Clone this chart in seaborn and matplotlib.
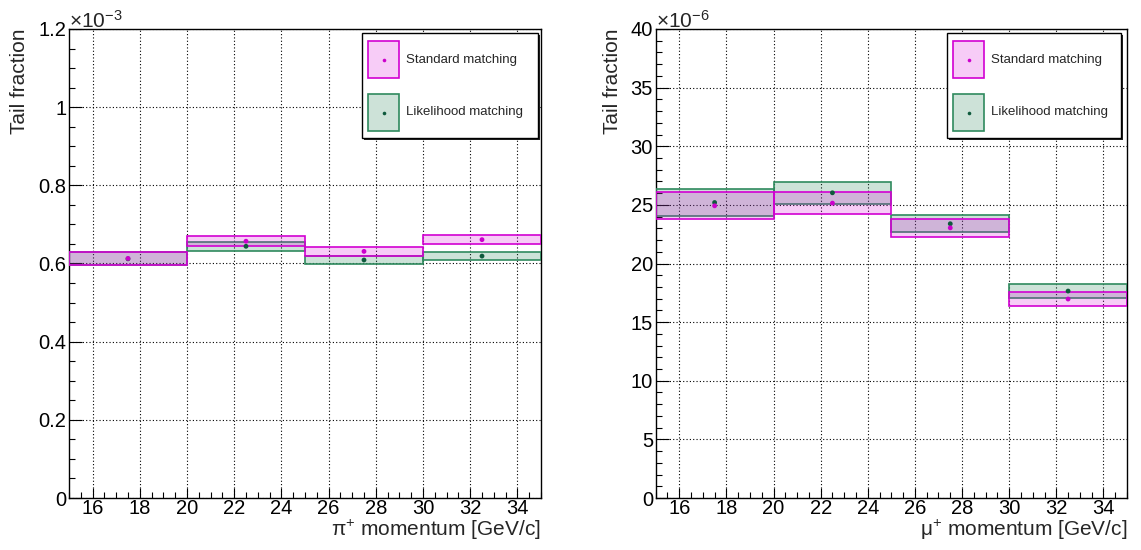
import numpy as np
import pandas as pd
import matplotlib
matplotlib.use("Agg")
import matplotlib.pyplot as plt
import seaborn as sns
from matplotlib.patches import Rectangle
from matplotlib.ticker import MultipleLocator, FuncFormatter

# ---------------- data ----------------
bin_edges = [15, 20, 25, 30, 35]

# pi+ tail fraction (units of 1e-3)
pi_std = [0.613, 0.657, 0.631, 0.661]
pi_std_err = [0.017, 0.013, 0.011, 0.0115]
pi_lik = [0.612, 0.644, 0.609, 0.619]
pi_lik_err = [0.017, 0.012, 0.010, 0.011]

# mu+ tail fraction (units of 1e-6)
mu_std = [24.92, 25.15, 23.04, 16.97]
mu_std_err = [1.15, 0.91, 0.74, 0.60]
mu_lik = [25.20, 26.03, 23.39, 17.65]
mu_lik_err = [1.15, 0.94, 0.72, 0.60]

series_labels = ["Standard matching", "Likelihood matching"]
x_titles = [r"$\mathrm{\pi}^{+}$ momentum [GeV/c]", r"$\mathrm{\mu}^{+}$ momentum [GeV/c]"]
y_title = "Tail fraction"
exponents = [r"×10$^{-3}$", r"×10$^{-6}$"]

# ---------------- style ----------------
sns.set_style("white")
plt.rcParams["font.family"] = ["Liberation Sans", "DejaVu Sans"]
plt.rcParams["mathtext.fontset"] = "custom"
plt.rcParams["mathtext.rm"] = "Liberation Sans"
plt.rcParams["mathtext.it"] = "Liberation Sans:italic"
plt.rcParams["mathtext.bf"] = "Liberation Sans:bold"

STD_EDGE = "#d200d2"
STD_FILL = (0.86, 0.0, 0.86, 0.20)
STD_MARK = "#cc00cc"
LIK_EDGE = "#2f8a5e"
LIK_FILL = (0.08, 0.48, 0.29, 0.21)
LIK_MARK = "#0e5a3c"

W, H = 1141, 550
fig = plt.figure(figsize=(W / 100, H / 100), dpi=100)
ax1 = fig.add_axes([69 / W, 52 / H, 472 / W, 469 / H])
ax2 = fig.add_axes([655.7 / W, 52 / H, 471.3 / W, 469 / H])

edges = np.array(bin_edges, dtype=float)
widths = np.diff(edges)
centers = edges[:-1] + widths / 2


def draw_series(ax, vals, errs, edge, fill, mark):
    vals = np.asarray(vals)
    errs = np.asarray(errs)
    ax.bar(edges[:-1], 2 * errs, bottom=vals - errs, width=widths, align="edge",
           facecolor=fill, edgecolor=edge, linewidth=1.2, zorder=3)
    df = pd.DataFrame({"x": centers, "y": vals})
    sns.scatterplot(data=df, x="x", y="y", color=mark, s=12, edgecolor="none",
                    ax=ax, zorder=6, legend=False)


def draw_legend(ax, left_px, right_px, ax_w, ax_h=469.0):
    top_px, bot_px = 4.0, 109.0
    def fx(p):
        return p / ax_w
    def fy(p):
        return 1 - p / ax_h
    # shadow
    ax.add_patch(Rectangle((fx(left_px + 1.5), fy(bot_px + 1.5)), fx(right_px - left_px),
                           (bot_px - top_px) / ax_h, transform=ax.transAxes,
                           facecolor="#222222", edgecolor="none", lw=0, zorder=8, clip_on=False))
    ax.add_patch(Rectangle((fx(left_px), fy(bot_px)), fx(right_px - left_px),
                           (bot_px - top_px) / ax_h, transform=ax.transAxes,
                           facecolor="white", edgecolor="black", lw=1.0, zorder=9, clip_on=False))
    rows = [(12.0, 49.3, STD_FILL, STD_EDGE, STD_MARK, series_labels[0]),
            (65.0, 102.0, LIK_FILL, LIK_EDGE, LIK_MARK, series_labels[1])]
    for t, b, fc, ec, mc, lab in rows:
        sx = left_px + 6.3
        ax.add_patch(Rectangle((fx(sx), fy(b)), fx(31), (b - t) / ax_h,
                               transform=ax.transAxes, facecolor=fc, edgecolor=ec,
                               lw=1.2, zorder=10, clip_on=False))
        ax.plot([fx(sx + 15.5)], [fy((t + b) / 2)], "o", color=mc, ms=2.6,
                mec="none", transform=ax.transAxes, zorder=11, clip_on=False)
        ax.text(fx(left_px + 43.7), fy((t + b) / 2), lab, transform=ax.transAxes,
                ha="left", va="center", fontsize=9.5, zorder=11)


panels = [
    (ax1, pi_lik, pi_lik_err, pi_std, pi_std_err, (0, 1.2), 0.2, 0.05, 0, (293.0, 469.0, 472.0), -0.085),
    (ax2, mu_lik, mu_lik_err, mu_std, mu_std_err, (0, 40), 5, 1, 1, (291.3, 465.3, 471.3), -0.0715),
]

for ax, lv, le, sv, se, ylim, ymaj, ymin, idx, leg, ylab_x in panels:
    draw_series(ax, lv, le, LIK_EDGE, LIK_FILL, LIK_MARK)
    draw_series(ax, sv, se, STD_EDGE, STD_FILL, STD_MARK)
    ax.set_xlim(15, 35)
    ax.set_ylim(*ylim)
    ax.xaxis.set_major_locator(MultipleLocator(2))
    ax.xaxis.set_minor_locator(MultipleLocator(0.5))
    ax.yaxis.set_major_locator(MultipleLocator(ymaj))
    ax.yaxis.set_minor_locator(MultipleLocator(ymin))
    ax.yaxis.set_major_formatter(FuncFormatter(lambda v, p: f"{v:g}"))
    ax.set_axisbelow(True)
    ax.grid(True, which="major", color="black", linestyle=(0, (1, 2)), linewidth=0.8)
    ax.tick_params(axis="both", which="both", direction="in", top=False, right=False,
                   bottom=True, left=True, colors="black", labelsize=14.5, width=0.8)
    ax.tick_params(axis="y", which="major", length=9, pad=2)
    ax.tick_params(axis="y", which="minor", length=4.5)
    ax.tick_params(axis="x", which="major", length=7, pad=1)
    ax.tick_params(axis="x", which="minor", length=4)
    for s in ax.spines.values():
        s.set_visible(True)
        s.set_color("black")
        s.set_linewidth(1.0)
    ax.set_xlabel(x_titles[idx], loc="right", fontsize=15)
    ax.xaxis.set_label_coords(1.0, -0.043)
    ax.set_ylabel(y_title, loc="top", fontsize=15)
    ax.yaxis.set_label_coords(ylab_x, 1.0)
    ax.text(0.0, 1.0 + 1.5 / 469, exponents[idx], transform=ax.transAxes,
            ha="left", va="baseline", fontsize=15)
    draw_legend(ax, *leg)

fig.savefig("out.png", dpi=100)
